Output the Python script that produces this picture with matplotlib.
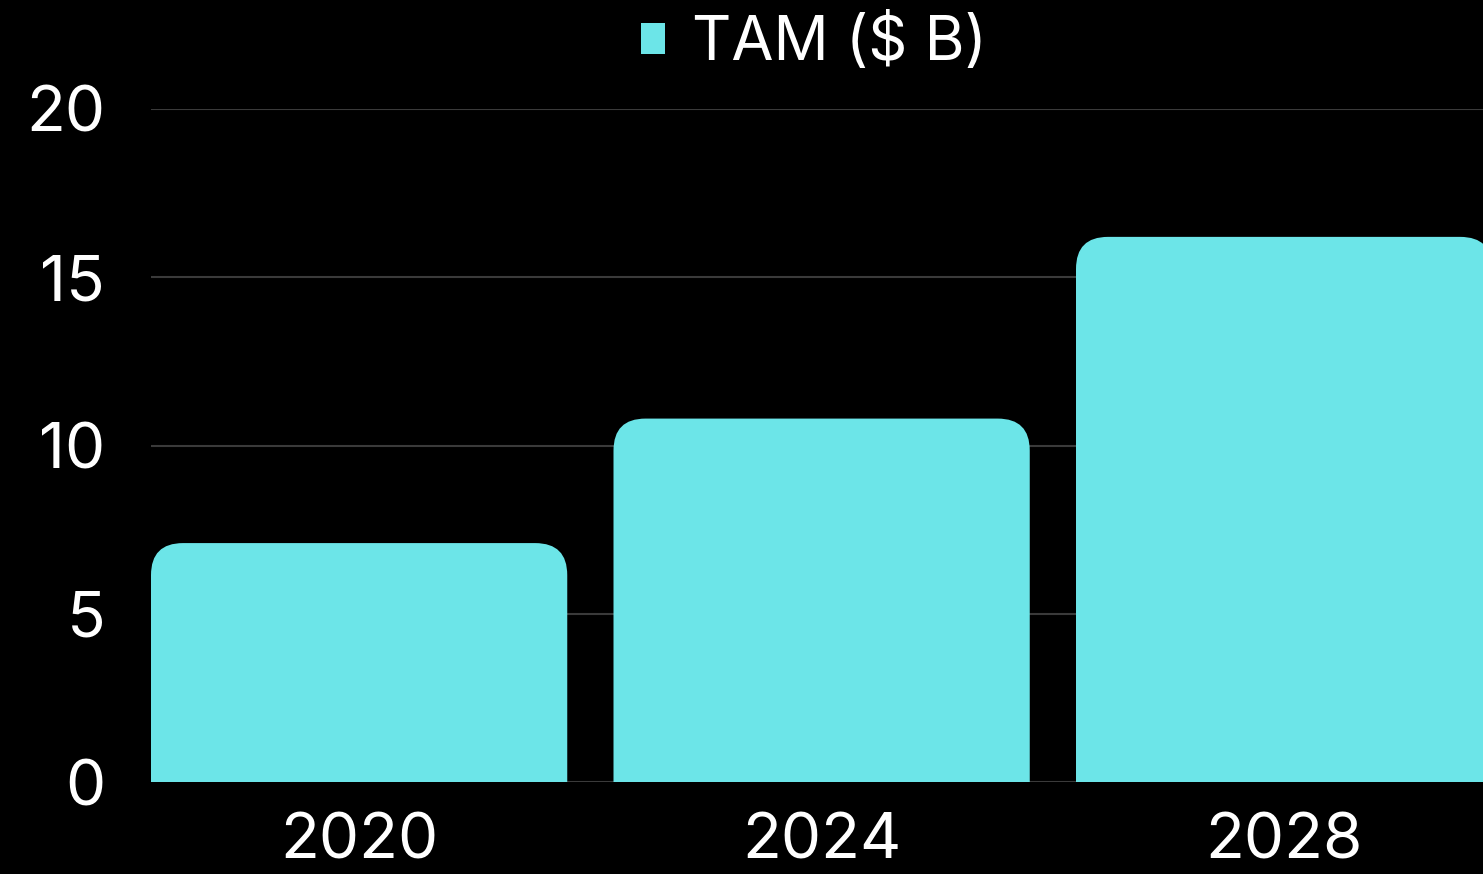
import matplotlib
matplotlib.use("Agg")
import matplotlib.pyplot as plt
from matplotlib.patches import FancyBboxPatch, Patch

years = ["2020", "2024", "2028"]
tam = [7.1, 10.8, 16.2]
series_name = "TAM ($ B)"

BAR_COLOR = "#6ce5e8"
BG = "#000000"

plt.rcParams["font.family"] = ["Inter", "DejaVu Sans"]

fig = plt.figure(figsize=(14.83, 8.74), dpi=100, facecolor=BG)
ax = fig.add_axes([151 / 1483, (874 - 782) / 874, 1 - 151 / 1483, (782 - 109) / 874])
ax.set_facecolor(BG)

width = 0.9
ax.set_xlim(-0.45, 2.43)
ax.set_ylim(0, 20)

# rounded corners: same pixel radius in x and y
fig.canvas.draw()
bbox = ax.get_window_extent()
px_x = bbox.width / (2.43 + 0.45)
px_y = bbox.height / 20
radius_px = 32
rx = radius_px / px_x
aspect = (radius_px / px_y) / rx

for i, v in enumerate(tam):
    # bottom pushed below 0 so only the top corners show rounded
    patch = FancyBboxPatch((i - width / 2, -3), width, v + 3,
                           boxstyle=f"round,pad=0,rounding_size={rx}",
                           mutation_aspect=aspect,
                           facecolor=BAR_COLOR, edgecolor="none", zorder=3)
    ax.add_patch(patch)

ax.set_yticks([0, 5, 10, 15, 20])
ax.set_xticks(range(len(years)))
ax.set_xticklabels(years)
ax.grid(axis="y", color="#3a3a3a", linewidth=1.5, zorder=0)
ax.axhline(0, color="#8a8a8a", linewidth=2, zorder=1)
ax.tick_params(axis="both", length=0, colors="white", labelsize=46)
ax.tick_params(axis="y", pad=33)
ax.tick_params(axis="x", pad=22)
for s in ax.spines.values():
    s.set_visible(False)

handle = Patch(facecolor=BAR_COLOR, edgecolor="none")
leg = fig.legend([handle], [series_name], loc="center",
                 bbox_to_anchor=(814 / 1483, 1 - 44 / 874),
                 frameon=False, fontsize=44, labelcolor="white",
                 handlelength=0.4, handleheight=0.4, handletextpad=0.45)

fig.savefig("out.png", dpi=100, facecolor=BG)
